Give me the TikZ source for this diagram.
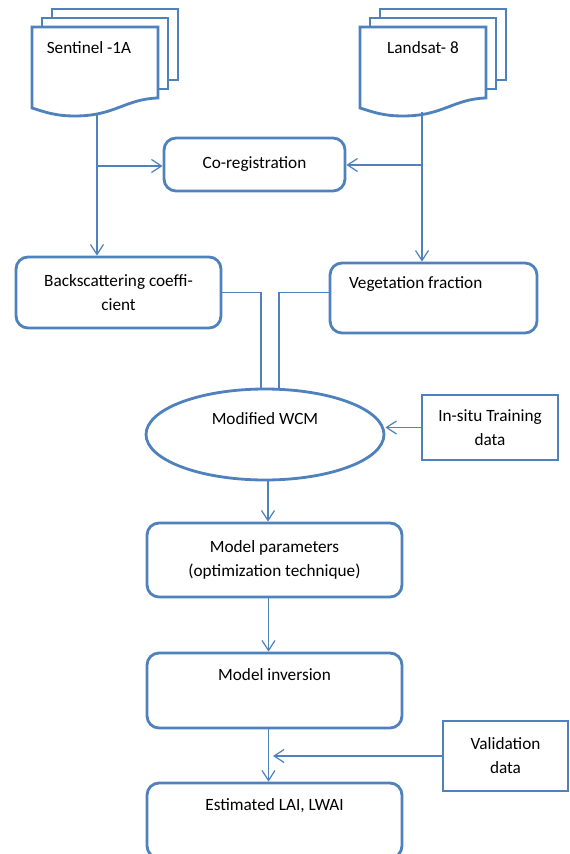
\documentclass[tikz,border=0pt]{standalone}
\usepackage{fontspec}
\setmainfont{Carlito}
\usetikzlibrary{arrows.meta,shapes.geometric}
\definecolor{wordblue}{RGB}{79,129,189}
\tikzset{>={Straight Barb[length=2mm,width=2.6mm]},font=\fontsize{9.8}{13.6}\selectfont}
\tikzset{
  roundbox/.style={draw=wordblue,line width=1.6pt,rounded corners=2.4mm,fill=white,inner sep=0pt,align=center},
  squarebox/.style={draw=wordblue,line width=1.6pt,fill=white,inner sep=0pt,align=center},
  wcmshape/.style={ellipse,draw=wordblue,line width=1.6pt,fill=white,inner sep=0pt,align=center},
  docpage/.style={draw=wordblue,line width=1.6pt,fill=white,line join=miter},
  link/.style={draw=wordblue,line width=0.7pt}
}

\begin{document}
\begin{tikzpicture}[x=0.02cm,y=-0.02cm]
\useasboundingbox (0,0) rectangle (569,854);
\foreach \dx in {0,328} {
  \begin{scope}[shift={(\dx,0)}]
    \filldraw[docpage] (52,9) rectangle (178,80);
    \filldraw[docpage] (42,18) rectangle (168,89);
    \filldraw[docpage] (32,27) -- (158,27) -- (158,98)
      .. controls (125,99) and (115,116) .. (75,116)
      .. controls (55,116) and (45,112) .. (32,108) -- cycle;
  \end{scope}
}
\node (s1) at (89,48) {Sentinel -1A};
\node (l8) at (423,48) {Landsat- 8};
\coordinate (s1b) at (97,113);
\coordinate (l8b) at (422,112);
\coordinate (s1j) at (97,166);
\coordinate (l8j) at (422,165);

\node[roundbox,minimum width=3.62cm,minimum height=1.06cm] (coreg) at (254.5,164.5) {Co-registration};
\node[roundbox,minimum width=4.10cm,minimum height=1.42cm] (bs) at (118.5,292.5) {Backscattering coeffi-\\cient};
\node[roundbox,minimum width=4.14cm,minimum height=1.40cm,text width=3.38cm,align=flush left] (veg) at (433.5,298) {Vegetation fraction\\\strut};
\node[wcmshape,minimum width=4.76cm,minimum height=1.82cm] (wcm) at (265,434.5) {Modified WCM\\\strut};
\node[squarebox,minimum width=2.72cm,minimum height=1.30cm] (ins) at (490,427.5) {In-situ Training\\data};
\node[roundbox,minimum width=5.10cm,minimum height=1.48cm] (mp) at (274.5,560) {Model parameters\\(optimization technique)};
\node[roundbox,minimum width=5.10cm,minimum height=1.50cm] (mi) at (274.5,690.5) {Model inversion\\\strut};
\node[roundbox,minimum width=5.10cm,minimum height=1.50cm] (est) at (274.5,820.5) {Estimated LAI, LWAI\\\strut};
\node[squarebox,minimum width=2.50cm,minimum height=1.40cm] (vd) at (505.5,756) {Validation\\data};
\coordinate (vdtip) at (273,756);

\draw[link,->] (s1b) -- (s1b |- bs.north);
\draw[link,->] (s1j) -- (s1j -| coreg.west);
\draw[link,->] (l8b) -- (l8b |- veg.north);
\draw[link,->] (l8j) -- (l8j -| coreg.east);
\draw[link] (bs.east) -| ([xshift=-0.08cm]wcm.north);
\draw[link] (veg.west |- bs.east) -| ([xshift=0.28cm]wcm.north);
\draw[link,->] (ins.west) -- (ins.west -| wcm.east);
\draw[link,->] ([xshift=0.06cm]wcm.south) -- ([xshift=0.06cm]wcm.south |- mp.north);
\draw[link,->] ([xshift=-0.12cm]mp.south) -- ([xshift=-0.12cm]mi.north);
\draw[link,->] ([xshift=-0.12cm]mi.south) -- ([xshift=-0.12cm]est.north);
\draw[link,->] (vd.west) -- (vdtip);
\end{tikzpicture}
\end{document}
